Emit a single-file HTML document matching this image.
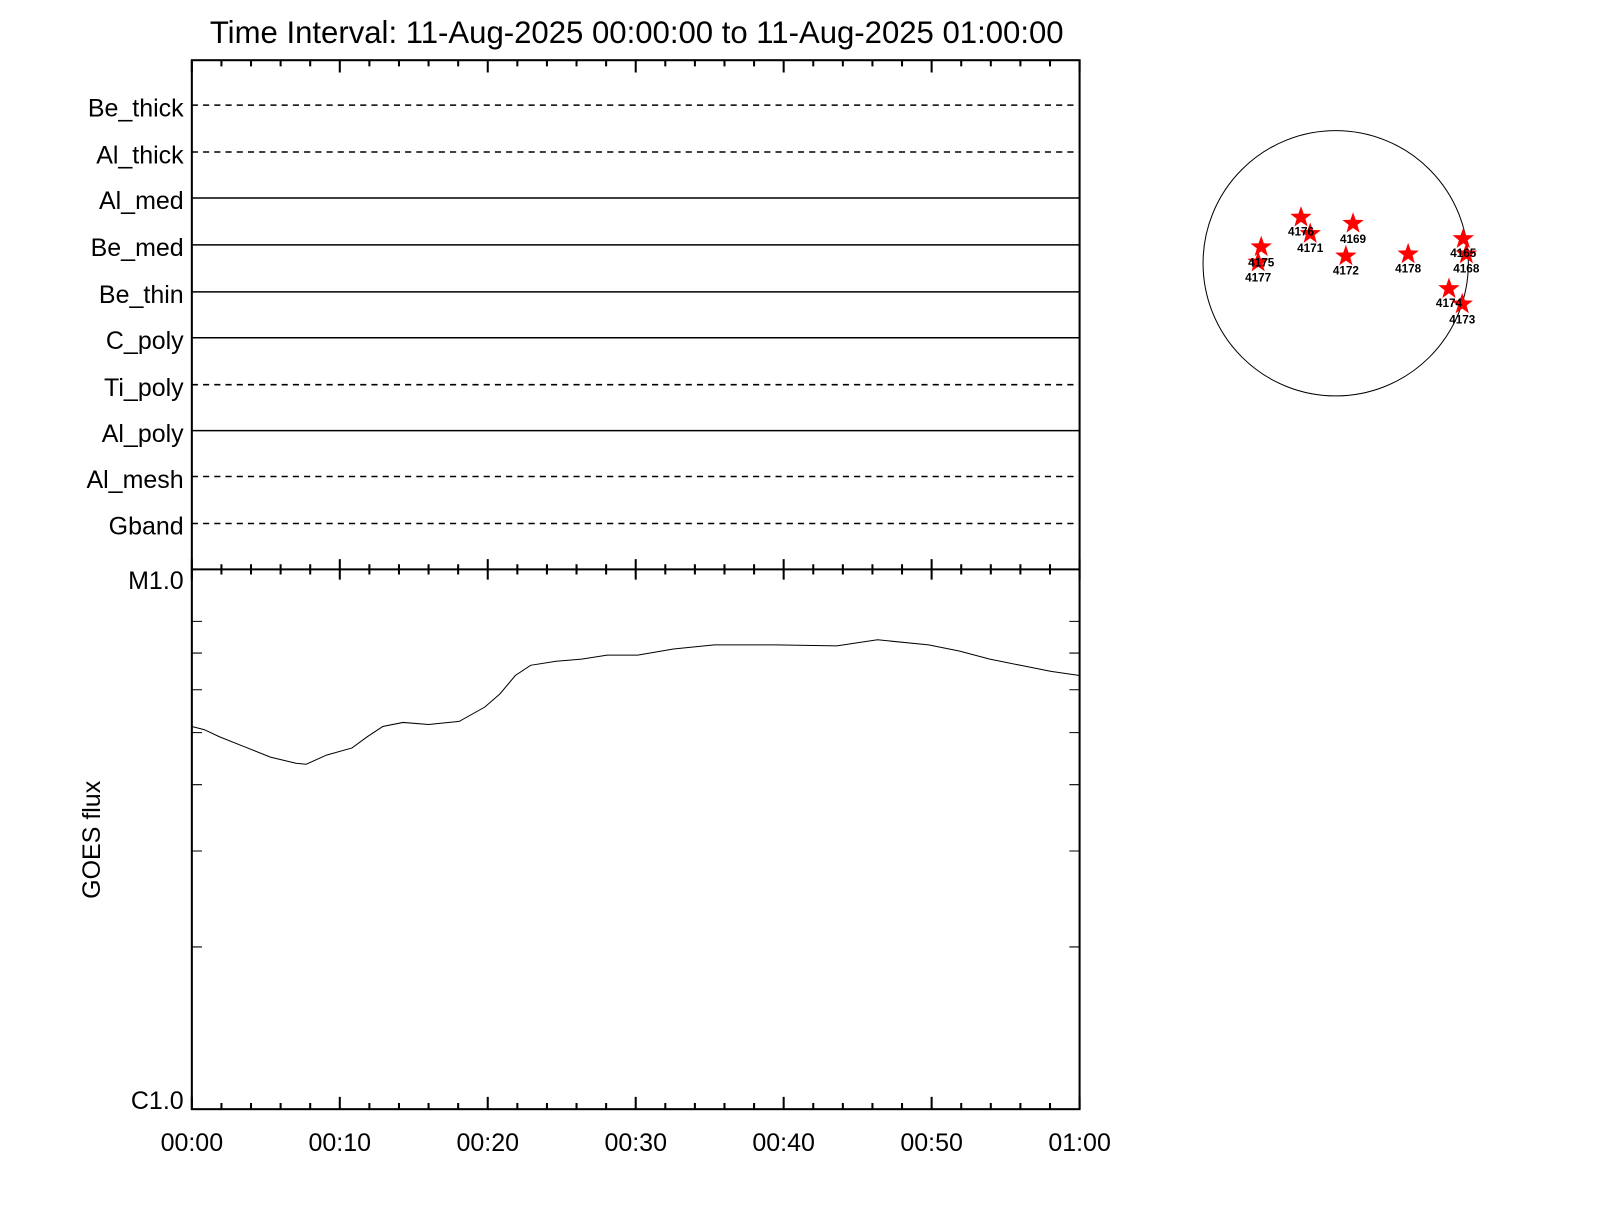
<!DOCTYPE html>
<html><head><style>body{margin:0;background:#fff}</style></head><body>
<svg width="1600" height="1200" xmlns="http://www.w3.org/2000/svg" font-family="Liberation Sans, sans-serif">
<rect width="1600" height="1200" fill="#fff"/>
<g transform="scale(1.0204)">
<text x="624" y="42" font-size="30.5" text-anchor="middle">Time Interval: 11-Aug-2025 00:00:00 to 11-Aug-2025 01:00:00</text>
<g stroke="#000" stroke-width="2" fill="none">
<rect x="188" y="59" width="870" height="1028"/>
<line x1="188" y1="558" x2="1058" y2="558"/>
</g>
<g stroke="#000" stroke-width="2">
<path d="M188 59v12M333 59v12M478 59v12M623 59v12M768 59v12M913 59v12M1058 59v12
M217 59v6M246 59v6M275 59v6M304 59v6M362 59v6M391 59v6M420 59v6M449 59v6M507 59v6M536 59v6M565 59v6M594 59v6M652 59v6M681 59v6M710 59v6M739 59v6M797 59v6M826 59v6M855 59v6M884 59v6M942 59v6M971 59v6M1000 59v6M1029 59v6"/>
<path d="M188 548v20M333 548v20M478 548v20M623 548v20M768 548v20M913 548v20M1058 548v20
M217 553v10M246 553v10M275 553v10M304 553v10M362 553v10M391 553v10M420 553v10M449 553v10M507 553v10M536 553v10M565 553v10M594 553v10M652 553v10M681 553v10M710 553v10M739 553v10M797 553v10M826 553v10M855 553v10M884 553v10M942 553v10M971 553v10M1000 553v10M1029 553v10"/>
<path d="M188 1087v-12M333 1087v-12M478 1087v-12M623 1087v-12M768 1087v-12M913 1087v-12M1058 1087v-12
M217 1087v-6M246 1087v-6M275 1087v-6M304 1087v-6M362 1087v-6M391 1087v-6M420 1087v-6M449 1087v-6M507 1087v-6M536 1087v-6M565 1087v-6M594 1087v-6M652 1087v-6M681 1087v-6M710 1087v-6M739 1087v-6M797 1087v-6M826 1087v-6M855 1087v-6M884 1087v-6M942 1087v-6M971 1087v-6M1000 1087v-6M1029 1087v-6"/>
</g>
<g stroke="#000" stroke-width="1">
<path d="M188 609h10M188 640h10M188 676h10M188 718h10M188 769h10M188 834h10M188 928h10M1058 609h-10M1058 640h-10M1058 676h-10M1058 718h-10M1058 769h-10M1058 834h-10M1058 928h-10"/>
</g>
<g stroke="#000" stroke-width="1.5">
<line x1="188" y1="103" x2="1058" y2="103" stroke-dasharray="6,5"/>
<line x1="188" y1="149" x2="1058" y2="149" stroke-dasharray="6,5"/>
<line x1="188" y1="194" x2="1058" y2="194"/>
<line x1="188" y1="240" x2="1058" y2="240"/>
<line x1="188" y1="286" x2="1058" y2="286"/>
<line x1="188" y1="331" x2="1058" y2="331"/>
<line x1="188" y1="377" x2="1058" y2="377" stroke-dasharray="6,5"/>
<line x1="188" y1="422" x2="1058" y2="422"/>
<line x1="188" y1="467" x2="1058" y2="467" stroke-dasharray="6,5"/>
<line x1="188" y1="513" x2="1058" y2="513" stroke-dasharray="6,5"/>
</g>
<g font-size="24.5" text-anchor="end">
<text x="180" y="114">Be_thick</text><text x="180" y="160">Al_thick</text><text x="180" y="205">Al_med</text>
<text x="180" y="251">Be_med</text><text x="180" y="297">Be_thin</text><text x="180" y="342">C_poly</text>
<text x="180" y="388">Ti_poly</text><text x="180" y="433">Al_poly</text><text x="180" y="478">Al_mesh</text>
<text x="180" y="524">Gband</text>
<text x="180" y="577">M1.0</text><text x="180" y="1087">C1.0</text>
</g>
<text x="98" y="823" font-size="24.5" text-anchor="middle" transform="rotate(-90 98 823)">GOES flux</text>
<g font-size="24.5" text-anchor="middle">
<text x="188" y="1128">00:00</text><text x="333" y="1128">00:10</text><text x="478" y="1128">00:20</text><text x="623" y="1128">00:30</text><text x="768" y="1128">00:40</text><text x="913" y="1128">00:50</text><text x="1058" y="1128">01:00</text>
</g>
<polyline fill="none" stroke="#000" stroke-width="1" points="188,712 200,715 215,722 240,732 265,742 290,748 300,749 320,740 345,733 360,722 375,712 395,708 420,710 450,707 475,693 490,680 505,662 520,652 545,648 570,646 595,642 625,642 660,636 700,632 760,632 820,633 860,627 910,632 940,638 970,646 1000,652 1030,658 1058,662"/>
<circle cx="1309" cy="258" r="130" fill="none" stroke="#000" stroke-width="1"/>
<defs><polygon id="s" points="0,-11 2.6,-3.6 10.5,-3.4 4.3,1.4 6.5,9 0,4.4 -6.5,9 -4.3,1.4 -10.5,-3.4 -2.6,-3.6" fill="#f00"/></defs>
<g>
<use href="#s" x="1275" y="213"/><use href="#s" x="1284" y="229"/><use href="#s" x="1326" y="219"/>
<use href="#s" x="1236" y="242"/><use href="#s" x="1233" y="257"/><use href="#s" x="1319" y="251"/>
<use href="#s" x="1380" y="249"/><use href="#s" x="1434" y="234"/><use href="#s" x="1437" y="249"/>
<use href="#s" x="1420" y="283"/><use href="#s" x="1433" y="298"/>
</g>
<g font-size="11.5" font-weight="bold" text-anchor="middle">
<text x="1275" y="231">4176</text><text x="1284" y="247">4171</text><text x="1326" y="238">4169</text>
<text x="1236" y="261">4175</text><text x="1233" y="276">4177</text><text x="1319" y="269">4172</text>
<text x="1380" y="267">4178</text><text x="1434" y="252">4165</text><text x="1437" y="267">4168</text>
<text x="1420" y="301">4174</text><text x="1433" y="317">4173</text>
</g>
</g>
</svg>
</body></html>
